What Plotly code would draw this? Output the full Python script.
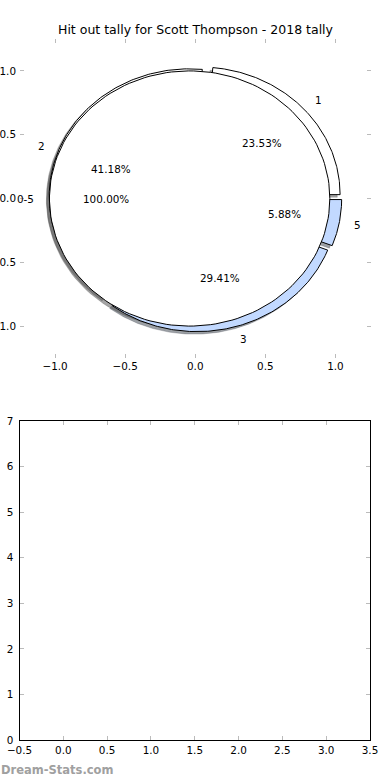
import numpy as np
import plotly.graph_objects as go

# ---------------- data ----------------
title_text = "Hit out tally for Scott Thompson - 2018 tally"
outer_labels = ["1", "2", "3", "5"]
outer_counts = [4, 7, 5, 1]
inner_labels = ["0-5"]
inner_counts = [17]
pie_ticks = [-1.0, -0.5, 0.0, 0.5, 1.0]
x2_ticks = [-0.5, 0.0, 0.5, 1.0, 1.5, 2.0, 2.5, 3.0, 3.5]
y2_ticks = [0, 1, 2, 3, 4, 5, 6, 7]
watermark = "Dream-Stats.com"

# ---------------- style ----------------
outer_colors = ["#ffffff", "#ffffff", "#c2d9ff", "#c2d9ff"]
inner_colors = ["#ffffff"]
FONT = "DejaVu Sans"
TICKC = "#bbbbbb"

W, H = 390, 780


def pie_geometry(counts, radius, width, explode, start=0.0):
    total = float(sum(counts))
    out = []
    t1 = start
    for c in counts:
        frac = c / total
        t2 = t1 + 360.0 * frac
        tm = np.radians((t1 + t2) / 2.0)
        cx = explode * np.cos(tm)
        cy = explode * np.sin(tm)
        out.append(dict(t1=t1, t2=t2, tm=tm, cx=cx, cy=cy, r=radius,
                        rin=(radius - width) if width else 0.0, frac=frac))
        t1 = t2
    return out


def wedge_xy(g, dx=0.0, dy=0.0, n=160):
    th = np.radians(np.linspace(g["t1"], g["t2"], n))
    cx, cy = g["cx"] + dx, g["cy"] + dy
    xo = cx + g["r"] * np.cos(th)
    yo = cy + g["r"] * np.sin(th)
    if abs(g["t2"] - g["t1"]) >= 360 - 1e-9:
        return np.append(xo, xo[0]), np.append(yo, yo[0])
    if g["rin"] > 0:
        xi = cx + g["rin"] * np.cos(th[::-1])
        yi = cy + g["rin"] * np.sin(th[::-1])
        x = np.concatenate([xo, xi, [xo[0]]])
        y = np.concatenate([yo, yi, [yo[0]]])
    else:
        x = np.concatenate([[cx], xo, [cx]])
        y = np.concatenate([[cy], yo, [cy]])
    return x, y


def shade(hexc):
    h = hexc.lstrip("#")
    r, g, b = (int(h[i:i + 2], 16) for i in (0, 2, 4))
    return "rgba(%d,%d,%d,0.5)" % (int(0.3 * r), int(0.3 * g), int(0.3 * b))


outer_geo = pie_geometry(outer_counts, 1.0, 0.12, 0.045)
inner_geo = pie_geometry(inner_counts, 1.0, 0.0, 0.04)

fig = go.Figure()

# shadows first (below wedges)
for geo, cols in ((outer_geo, outer_colors), (inner_geo, inner_colors)):
    for g, col in zip(geo, cols):
        x, y = wedge_xy(g, -0.02, -0.02)
        fig.add_trace(go.Scatter(x=x, y=y, mode="lines", fill="toself",
                                 fillcolor=shade(col),
                                 line=dict(width=0.5, color=shade(col)),
                                 hoverinfo="skip", showlegend=False))

# wedges: outer ring then inner pie on top
for geo, cols in ((outer_geo, outer_colors), (inner_geo, inner_colors)):
    for g, col in zip(geo, cols):
        x, y = wedge_xy(g)
        fig.add_trace(go.Scatter(x=x, y=y, mode="lines", fill="toself",
                                 fillcolor=col,
                                 line=dict(width=1, color="#000000"),
                                 hoverinfo="skip", showlegend=False))

# empty lower subplot
fig.add_trace(go.Scatter(x=[], y=[], xaxis="x2", yaxis="y2",
                         showlegend=False, hoverinfo="skip"))

annotations = []
labfont = dict(family=FONT, size=10.4, color="#000000")
for geo, labels in ((outer_geo, outer_labels), (inner_geo, inner_labels)):
    for g, lab in zip(geo, labels):
        e = np.hypot(g["cx"], g["cy"])
        xt = (e + 1.1 * g["r"]) * np.cos(g["tm"])
        yt = (e + 1.1 * g["r"]) * np.sin(g["tm"])
        annotations.append(dict(x=xt, y=yt, xref="x", yref="y", text=lab,
                                showarrow=False, xanchor="left" if xt > 0 else "right",
                                yanchor="middle", font=labfont, borderpad=0))
        xp = (e + 0.6 * g["r"]) * np.cos(g["tm"])
        yp = (e + 0.6 * g["r"]) * np.sin(g["tm"])
        annotations.append(dict(x=xp, y=yp, xref="x", yref="y",
                                text="%.2f%%" % (100 * g["frac"]),
                                showarrow=False, xanchor="center", yanchor="middle",
                                font=labfont, borderpad=0))

annotations.append(dict(x=0, y=1 - 770 / H, xref="paper", yref="paper",
                        text=watermark, showarrow=False, xanchor="left",
                        yanchor="middle", borderpad=0,
                        font=dict(family=FONT, size=11.5, color="#a0a0a0", weight="bold")))

tickfont = dict(family=FONT, size=10.4, color="#000000")
common = dict(showgrid=False, zeroline=False, ticks="inside", ticklen=4,
              tickcolor=TICKC, tickwidth=1, tickfont=tickfont, automargin=False,
              fixedrange=True)

fig.update_layout(
    width=W, height=H,
    margin=dict(l=0, r=0, t=0, b=0),
    paper_bgcolor="#ffffff", plot_bgcolor="rgba(0,0,0,0)",
    showlegend=False,
    title=dict(text=title_text, x=195.5 / W, xanchor="center", xref="paper",
               y=1 - 30 / H, yref="container", yanchor="middle",
               font=dict(family=FONT, size=12.5, color="#000000")),
    xaxis=dict(domain=[20 / W, 370.5 / W], range=[-1.25, 1.25], anchor="y",
               tickvals=pie_ticks, tickformat=".1f", showline=False, mirror="ticks",
               ticklabelstandoff=1, **common),
    yaxis=dict(domain=[1 - 358 / H, 1 - 39 / H], range=[-1.25, 1.25], anchor="x",
               tickvals=pie_ticks, tickformat=".1f", showline=False, mirror="ticks",
               ticklabelstandoff=3, **common),
    xaxis2=dict(domain=[19.5 / W, 370 / W], range=[-0.5, 3.5], anchor="y2",
                tickvals=x2_ticks, tickformat=".1f", showline=True, linecolor="#000000",
                linewidth=1, mirror="allticks", ticklabelstandoff=1, **common),
    yaxis2=dict(domain=[1 - 740 / H, 1 - 421 / H], range=[0, 7], anchor="x2",
                tickvals=y2_ticks, showline=True, linecolor="#000000",
                linewidth=1, mirror="allticks", ticklabelstandoff=3, **common),
    annotations=annotations,
)

fig.write_html(
    "out.html",
    config={"displayModeBar": False, "staticPlot": True},
    post_script=("document.body.style.margin='0';document.body.style.padding='0';"
                 "document.body.style.overflow='hidden';"
                 "document.documentElement.style.overflow='hidden';"),
)
